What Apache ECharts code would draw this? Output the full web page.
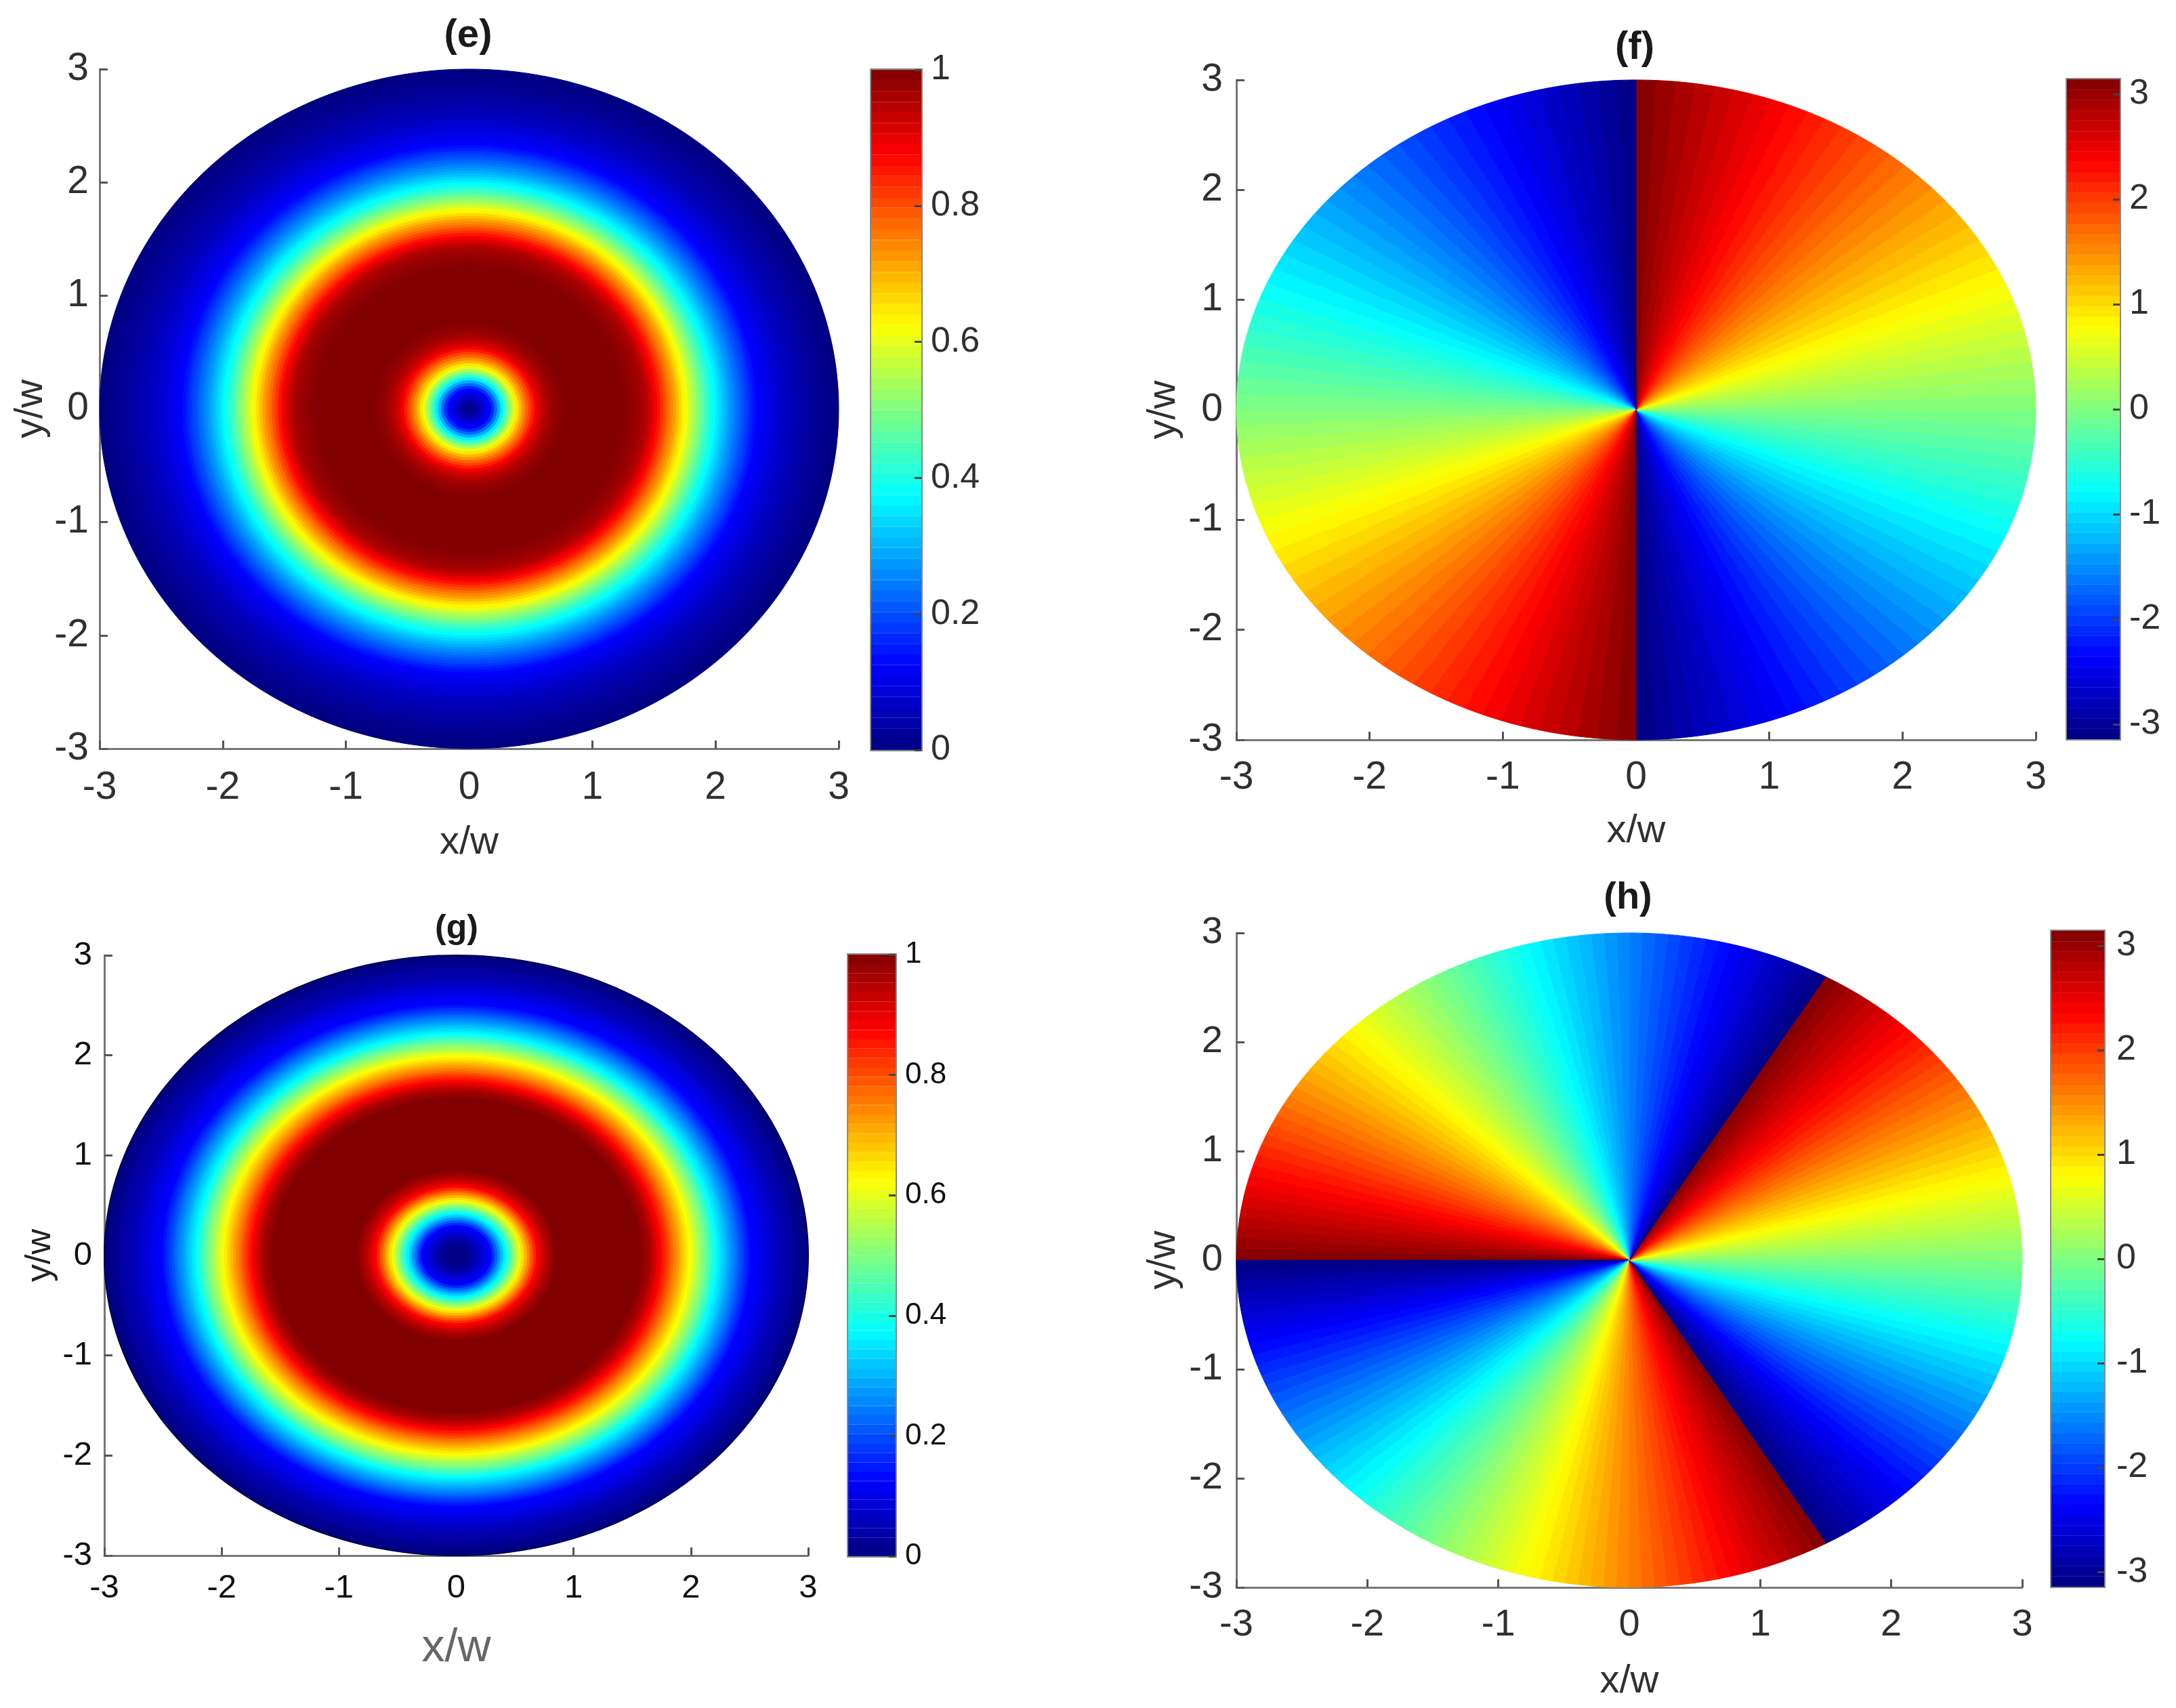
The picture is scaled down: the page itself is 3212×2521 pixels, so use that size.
<!DOCTYPE html>
<html><head><meta charset="utf-8"><style>html,body{margin:0;padding:0;background:#fff}#c{width:3212px;height:2521px}</style>
<script src="https://cdn.jsdelivr.net/npm/echarts@6/dist/echarts.min.js"></script></head>
<body><div id="c"></div>
<script>
// ---------- chart data ----------
const panelTitles = ['(e)', '(f)', '(g)', '(h)'];
const xName = 'x/w';
const yName = 'y/w';
const axisTicks = [-3, -2, -1, 0, 1, 2, 3];
const phaseBarTicks = [-3, -2, -1, 0, 1, 2, 3];
const intensityBarTicks = [0, 0.2, 0.4, 0.6, 0.8, 1];
const ringStep = 0.025;   // radial spacing of the profile readings, in x/w
// intensity read along the radius of panel (e), r = 0 ... 3
const profileE = [0,.005,.02,.04,.06,.085,.105,.125,.165,.23,.295,.36,.425,.485,.545,.605,.65,.695,.735,.775,.81,.85,.885,.91,.93,.945,.96,.97,.98,.985,.99,.995,
 1,1,1,1,1,1,1,1,1,1,1,1,1,1,1,1,1,
 .998,.996,.993,.99,.985,.98,.975,.968,.96,.945,.925,.905,.88,.855,.825,.8,.77,.745,.72,.69,.66,.635,.61,.58,.55,.525,.495,.47,.44,.42,.395,.375,.355,.335,.315,.295,.275,.26,.24,.225,.205,.19,.175,.155,.14,.125,.118,.11,.105,.098,.09,.085,.078,.072,.066,.06,.055,.05,.046,.042,.038,.034,.03,.027,.024,.02,.016,.013,.01,.006,.003,0];
// intensity read along the radius of panel (g), r = 0 ... 3
const profileG = [0,0,0,.005,.01,.02,.03,.045,.06,.08,.095,.11,.125,.17,.22,.27,.32,.365,.41,.46,.51,.56,.605,.655,.7,.745,.79,.835,.875,.9,.925,.945,.96,.975,.99,
 1,1,1,1,1,1,1,1,1,1,1,1,1,1,1,1,1,1,1,1,1,1,1,1,1,1,1,1,1,
 .985,.975,.965,.945,.925,.9,.875,.85,.825,.8,.77,.745,.72,.695,.67,.645,.62,.595,.57,.54,.515,.49,.46,.435,.405,.375,.355,.335,.315,.29,.27,.25,.23,.205,.185,.165,.145,.125,.12,.115,.108,.1,.092,.085,.075,.065,.058,.05,.045,.04,.035,.03,.022,.015,.008,.004,0];
// quantised phase levels of the colour scale, radians
const phaseLevels = [-3.093,-2.994,-2.896,-2.798,-2.700,-2.601,-2.503,-2.405,-2.307,-2.209,-2.110,-2.012,-1.914,-1.816,-1.718,-1.620,-1.521,-1.423,-1.325,-1.227,-1.129,-1.031,-0.933,-0.834,-0.736,-0.638,-0.540,-0.442,-0.344,-0.245,-0.147,-0.049,
 0.049,0.147,0.245,0.344,0.442,0.540,0.638,0.736,0.834,0.933,1.031,1.129,1.227,1.325,1.423,1.521,1.620,1.718,1.816,1.914,2.012,2.110,2.209,2.307,2.405,2.503,2.601,2.700,2.798,2.896,2.994,3.093];
const intensityLevels = [.008,.023,.039,.055,.070,.086,.102,.117,.133,.148,.164,.180,.195,.211,.227,.242,.258,.273,.289,.305,.320,.336,.352,.367,.383,.398,.414,.430,.445,.461,.477,.492,
 .508,.523,.539,.555,.570,.586,.602,.617,.633,.648,.664,.680,.695,.711,.727,.742,.758,.773,.789,.805,.820,.836,.852,.867,.883,.898,.914,.930,.945,.961,.977,.992];
// angles (degrees) at which each 2-pi phase wedge starts, and its angular span
const wedgeStartsF = [-90, 90];
const wedgeSpanF = 180;
const wedgeStartsH = [-60, 60, 180];
const wedgeSpanH = 120;
const jetColors = ['#000080','#0000ff','#0080ff','#00ffff','#80ff80','#ffff00','#ff8000','#ff0000','#800000'];

// ---------- layout and style ----------
const FONT = '"Liberation Sans", Arial, sans-serif';
const layouts = [
 {g:[147,102,1091,1003], b:[1286,103,74,1004], title:[691,24], tick:57, bar:52, xName:58, yName:58, color:'#303030', xNameColor:'#303030', yNameColor:'#303030', xGap:110, yGap:72, titleSize:58, mx:30, my:16, padY:8, padBar:4, barMargin:14},
 {g:[1825,118,1180,974], b:[3051,117,78,974], title:[2413,42], tick:57, bar:52, xName:58, yName:58, color:'#303030', xNameColor:'#303030', yNameColor:'#303030', xGap:106, yGap:78, titleSize:58, mx:28, my:20, padY:8, padBar:4, barMargin:14},
 {g:[154,1410,1039,886], b:[1252,1409,70,888], title:[674,1346], tick:49, bar:44, xName:68, yName:52, color:'#111111', xNameColor:'#666666', yNameColor:'#222222', xGap:103, yGap:68, titleSize:50, mx:24, my:18, padY:0, padBar:4, barMargin:14},
 {g:[1825,1377,1160,966], b:[3028,1374,78,968], title:[2403,1298], tick:56, bar:52, xName:58, yName:58, color:'#303030', xNameColor:'#303030', yNameColor:'#303030', xGap:110, yGap:78, titleSize:56, mx:28, my:20, padY:4, padBar:6, barMargin:18}
];

// ---------- tables built from the arrays ----------
function ringRows(profile){ return profile.map((v,i)=>[v, i*ringStep]).reverse(); }
function wedgeRows(starts, span){
  const rows=[], d=span/phaseLevels.length;
  starts.forEach(s=>phaseLevels.forEach((p,i)=>rows.push([p, s+i*d, s+(i+1)*d])));
  return rows;
}
function polar(r,deg){ const a=deg*Math.PI/180; return [r*Math.cos(a), r*Math.sin(a)]; }
function ringRenderer(rim){
  return function(params, api){
    const r=api.value(1), pts=[];
    for(let i=0;i<240;i++) pts.push(api.coord(polar(r,i*1.5)));
    const c=api.visual('color');
    const outer = rim && params.dataIndex===0;
    return {type:'polygon', shape:{points:pts}, style:{fill:c, stroke:outer?rim:c, lineWidth:outer?2:1}};
  };
}
function renderWedge(params, api){
  const a0=api.value(1), a1=api.value(2), c=api.visual('color');
  const pts=[api.coord([0,0])];
  for(let k=0;k<=4;k++) pts.push(api.coord(polar(3,a0+(a1-a0)*k/4)));
  return {type:'polygon', shape:{points:pts}, style:{fill:c, stroke:c, lineWidth:1}};
}
function barRender(half){
  return function(params, api){
    const v=api.value(0), p0=api.coord([0,v-half]), p1=api.coord([1,v+half]), c=api.visual('color');
    return {type:'rect', shape:{x:p0[0], y:p1[1], width:p1[0]-p0[0], height:p0[1]-p1[1]}, style:{fill:c, stroke:c, lineWidth:.5}};
  };
}

const grids=[], xAxes=[], yAxes=[], series=[], titles=[];
const bodies=[
 {rows:ringRows(profileE), render:ringRenderer(null), phase:false},
 {rows:wedgeRows(wedgeStartsF,wedgeSpanF), render:renderWedge, phase:true},
 {rows:ringRows(profileG), render:ringRenderer('#00004a'), phase:false},
 {rows:wedgeRows(wedgeStartsH,wedgeSpanH), render:renderWedge, phase:true}
];
const intensitySeries=[], phaseSeries=[];
layouts.forEach((L,i)=>{
  const B=bodies[i], idx=grids.length;
  grids.push({left:L.g[0],top:L.g[1],width:L.g[2],height:L.g[3],containLabel:false});
  const lab={fontFamily:FONT,fontSize:L.tick,color:L.color,showMinLabel:true,showMaxLabel:true};
  const axisBase={type:'value',min:-3,max:3,interval:1,gridIndex:idx,splitLine:{show:false},
    axisLine:{show:true,onZero:false,lineStyle:{color:'#777',width:3}},
    axisTick:{show:true,inside:true,length:12,lineStyle:{color:'#555',width:3}}};
  xAxes.push(Object.assign({},axisBase,{position:'bottom',name:xName,nameLocation:'middle',nameGap:L.xGap,
    nameTextStyle:{fontFamily:FONT,fontSize:L.xName,color:L.xNameColor},
    axisLabel:Object.assign({margin:L.mx},lab)}));
  yAxes.push(Object.assign({},axisBase,{position:'left',name:yName,nameLocation:'middle',nameGap:L.yGap,nameRotate:90,
    nameTextStyle:{fontFamily:FONT,fontSize:L.yName,color:L.yNameColor},
    axisLabel:Object.assign({margin:L.my,padding:[L.padY,0,0,0]},lab)}));
  (B.phase?phaseSeries:intensitySeries).push(series.length);
  series.push({type:'custom',coordinateSystem:'cartesian2d',xAxisIndex:idx,yAxisIndex:idx,data:B.rows,renderItem:B.render,silent:true,clip:false,progressive:0,animation:false});

  // colour bar with its own axis
  const bIdx=grids.length;
  grids.push({left:L.b[0],top:L.b[1],width:L.b[2],height:L.b[3],show:true,backgroundColor:'transparent',borderColor:'#8a8a8a',borderWidth:4});
  xAxes.push({type:'value',min:0,max:1,gridIndex:bIdx,show:false});
  const blab={fontFamily:FONT,fontSize:L.bar,color:L.color,margin:L.barMargin,padding:[L.padBar,0,0,0]};
  const bLine={show:false,onZero:false};
  const bTick={show:true,inside:true,length:10,lineStyle:{color:'#444',width:3}};
  if(B.phase){
    yAxes.push({type:'value',min:-Math.PI,max:Math.PI,gridIndex:bIdx,position:'right',z:5,splitLine:{show:false},axisLine:bLine,
      axisTick:Object.assign({},bTick,{customValues:phaseBarTicks}),
      axisLabel:Object.assign({},blab,{customValues:phaseBarTicks})});
  }else{
    yAxes.push({type:'value',min:0,max:1,interval:0.2,gridIndex:bIdx,position:'right',z:5,splitLine:{show:false},axisLine:bLine,
      axisTick:bTick,axisLabel:Object.assign({},blab,{customValues:intensityBarTicks})});
  }
  (B.phase?phaseSeries:intensitySeries).push(series.length);
  series.push({type:'custom',coordinateSystem:'cartesian2d',xAxisIndex:bIdx,yAxisIndex:bIdx,
    data:(B.phase?phaseLevels:intensityLevels).map(v=>[v]),renderItem:barRender(B.phase?Math.PI/64:1/128),silent:true,clip:true,progressive:0,animation:false});

  titles.push({text:panelTitles[i],left:L.title[0],top:L.title[1],textAlign:'center',padding:0,
    textStyle:{fontFamily:FONT,fontWeight:'bold',fontSize:L.titleSize,color:'#1a1a1a'}});
});

const chart=echarts.init(document.getElementById('c'),null,{renderer:'canvas',width:3212,height:2521});
chart.setOption({
  backgroundColor:'#ffffff',animation:false,title:titles,grid:grids,xAxis:xAxes,yAxis:yAxes,series:series,tooltip:{show:false},
  visualMap:[
    {type:'continuous',show:false,min:0,max:1,dimension:0,seriesIndex:intensitySeries,inRange:{color:jetColors}},
    {type:'continuous',show:false,min:-Math.PI,max:Math.PI,dimension:0,seriesIndex:phaseSeries,inRange:{color:jetColors}}
  ]
});
</script></body></html>
